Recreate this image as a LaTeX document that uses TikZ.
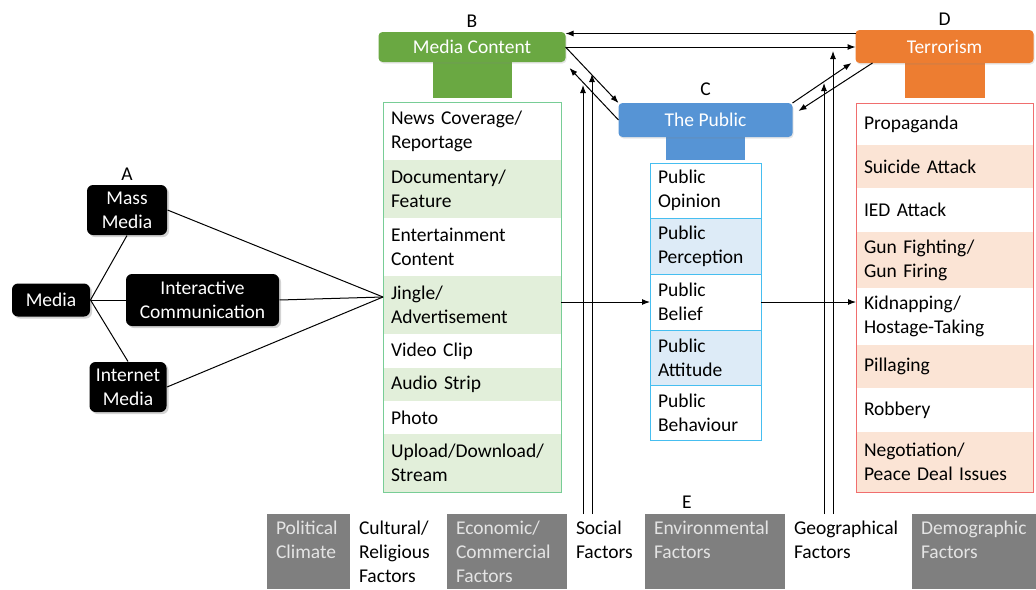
\documentclass[tikz,border=0pt]{standalone}
\usepackage{fontspec}
\setmainfont{Carlito}
\usetikzlibrary{arrows.meta, positioning, shadows}

\definecolor{mcgreen}{RGB}{106,168,66}
\definecolor{mcgreenlt}{RGB}{226,239,218}
\definecolor{mcgreenln}{RGB}{120,205,150}
\definecolor{pubblue}{RGB}{86,148,213}
\definecolor{pubbluelt}{RGB}{221,235,247}
\definecolor{pubcyan}{RGB}{70,190,240}
\definecolor{terorange}{RGB}{237,125,49}
\definecolor{terpeach}{RGB}{251,228,213}
\definecolor{terred}{RGB}{240,110,110}
\definecolor{facgray}{RGB}{127,127,127}
\definecolor{factext}{RGB}{228,228,228}

\tikzset{
    blackbox/.style={rounded corners=6pt, fill=black, text=white, align=center, inner sep=2pt,
        drop shadow={opacity=0.35, shadow xshift=2pt, shadow yshift=-2pt}},
    head/.style={rounded corners=4pt, text=white, inner sep=2pt, outer sep=0pt,
        drop shadow={opacity=0.2, shadow xshift=1pt, shadow yshift=-1.5pt}},
    stem/.style={inner sep=0pt, outer sep=0pt},
    tag/.style={inner sep=1pt},
    brow/.style={text width=162pt, inner xsep=8pt, inner ysep=0pt, outer sep=0pt, align=left},
    crow/.style={text width=95pt, inner xsep=8pt, inner ysep=0pt, outer sep=0pt, align=left, draw=pubcyan},
    drow/.style={text width=161pt, inner xsep=8pt, inner ysep=0pt, outer sep=0pt, align=left},
    ecell/.style={minimum height=75pt, inner xsep=9pt, inner ysep=0pt, outer sep=0pt, align=left},
    egray/.style={fill=facgray, text=factext}
}

\begin{document}
\begin{tikzpicture}[x=1pt, y=-1pt, line width=1pt, >={Latex[length=8pt,width=6pt]},
        font=\fontsize{19.5}{24}\selectfont]
        \useasboundingbox (0,0) rectangle (1036,589);

        \node[blackbox, minimum width=78pt, minimum height=33pt] (media) at (51,300) {Media};
        \node[blackbox, right=35pt of media, minimum width=153pt, minimum height=52pt] (inter) {Interactive\\Communication};
        \node[blackbox, minimum width=80pt, minimum height=50pt] (mass) at (127,210) {Mass\\Media};
        \node[blackbox, minimum width=77pt, minimum height=50pt] (inet) at (128,387) {Internet\\Media};
        \node[tag, above=3pt of mass] (la) {A};

        \node[brow, minimum height=58pt, anchor=north west] (b1) at (383,102) {News Coverage/\\Reportage};
        \node[brow, fill=mcgreenlt, minimum height=58pt, below=0pt of b1] (b2) {Documentary/\\Feature};
        \node[brow, minimum height=58pt, below=0pt of b2] (b3) {Entertainment\\Content};
        \node[brow, fill=mcgreenlt, minimum height=58pt, below=0pt of b3] (b4) {Jingle/\\Advertisement};
        \node[brow, minimum height=34pt, below=0pt of b4] (b5) {Video Clip};
        \node[brow, fill=mcgreenlt, minimum height=33pt, below=0pt of b5] (b6) {Audio Strip};
        \node[brow, minimum height=33pt, below=0pt of b6] (b7) {Photo};
        \node[brow, fill=mcgreenlt, minimum height=58pt, below=0pt of b7] (b8) {Upload/Download/\\Stream};
        \draw[mcgreenln] (b1.north west) rectangle (b8.south east);
        \node[stem, fill=mcgreen, minimum width=79pt, minimum height=36pt, above=4pt of b1] (bstem) {};
        \node[head, fill=mcgreen, minimum width=187pt, minimum height=30pt, above=0pt of bstem] (bhead) {Media Content};
        \node[tag, above=3pt of bhead] (lb) {B};

        \node[crow, minimum height=55pt, anchor=north west] (c1) at (650,163) {Public\\Opinion};
        \node[crow, fill=pubbluelt, minimum height=56pt, below=0pt of c1] (c2) {Public\\Perception};
        \node[crow, minimum height=56pt, below=0pt of c2] (c3) {Public\\Belief};
        \node[crow, fill=pubbluelt, minimum height=55pt, below=0pt of c3] (c4) {Public\\Attitude};
        \node[crow, minimum height=55pt, below=0pt of c4] (c5) {Public\\Behaviour};
        \node[stem, fill=pubblue, minimum width=79pt, minimum height=23pt, above=3pt of c1] (cstem) {};
        \node[head, fill=pubblue, minimum width=174pt, minimum height=34pt, above=0pt of cstem] (chead) {The Public};
        \node[tag, above=6pt of chead] (lc) {C};

        \node[drow, minimum height=42pt, anchor=north west] (d1) at (856,103) {Propaganda};
        \node[drow, fill=terpeach, minimum height=43pt, below=0pt of d1] (d2) {Suicide Attack};
        \node[drow, minimum height=44pt, below=0pt of d2] (d3) {IED Attack};
        \node[drow, fill=terpeach, minimum height=56pt, below=0pt of d3] (d4) {Gun Fighting/\\Gun Firing};
        \node[drow, minimum height=57pt, below=0pt of d4] (d5) {Kidnapping/\\Hostage-Taking};
        \node[drow, fill=terpeach, minimum height=43pt, below=0pt of d5] (d6) {Pillaging};
        \node[drow, minimum height=44pt, below=0pt of d6] (d7) {Robbery};
        \node[drow, fill=terpeach, minimum height=60pt, below=0pt of d7] (d8) {Negotiation/\\Peace Deal Issues};
        \draw[terred] (d1.north west) rectangle (d8.south east);
        \node[stem, fill=terorange, minimum width=80pt, minimum height=35pt, above=5pt of d1] (dstem) {};
        \node[head, fill=terorange, minimum width=178pt, minimum height=33pt, above=0pt of dstem] (dhead) {Terrorism};
        \node[tag, above=3pt of dhead] (ld) {D};

        \node[ecell, egray, text width=65pt, anchor=north west] (e1) at (267,514) {Political\\Climate\\\mbox{}};
        \node[ecell, text width=79pt, right=0pt of e1] (e2) {Cultural/\\Religious\\Factors};
        \node[ecell, egray, text width=102pt, right=0pt of e2] (e3) {Economic/\\Commercial\\Factors};
        \node[ecell, text width=60pt, right=0pt of e3] (e4) {Social\\Factors\\\mbox{}};
        \node[ecell, egray, text width=122pt, right=0pt of e4] (e5) {Environmental\\Factors\\\mbox{}};
        \node[ecell, text width=109pt, right=0pt of e5] (e6) {Geographical\\Factors\\\mbox{}};
        \node[ecell, egray, text width=106pt, right=0pt of e6] (e7) {Demographic\\Factors\\\mbox{}};
        \node[tag] (le) at (687,502) {E};

        \coordinate (hub) at (383,297);
        \draw (media.east) -- (mass.south);
        \draw (media.east) -- (inter.west);
        \draw (media.east) -- (inet.north);
        \draw (mass.east) -- (hub);
        \draw (inter.east) -- (hub);
        \draw (inet.east) -- (hub);

        \draw[->] (b4.east |- c3.west) -- (c3.west);
        \draw[->] (c3.east) -- (c3.east -| d5.west);

        \draw[->] ([yshift=13pt]dhead.west) -- ([yshift=13pt]dhead.west -| bhead.east);
        \draw[->] (bhead.east) -- (bhead.east -| dhead.west);
        \draw[->] (bhead.east) -- (chead.north west);
        \draw[->] (chead.west) -- ([xshift=4pt,yshift=-6pt]bhead.south east);
        \draw[->] (chead.north east) -- ([xshift=-4pt]dhead.south west);
        \draw[->] ([xshift=17pt]dhead.south west) -- ([xshift=6pt,yshift=-8pt]chead.north east);

        \coordinate (s1) at (583,85);
        \coordinate (s2) at (592,74);
        \coordinate (g1) at (824,83);
        \coordinate (g2) at (833,51);
        \draw[->] (e4.north -| s1) -- (s1);
        \draw[->] (e4.north -| s2) -- (s2);
        \draw[->] (e6.north -| g1) -- (g1);
        \draw[->] (e6.north -| g2) -- (g2);
    \end{tikzpicture}
\end{document}
